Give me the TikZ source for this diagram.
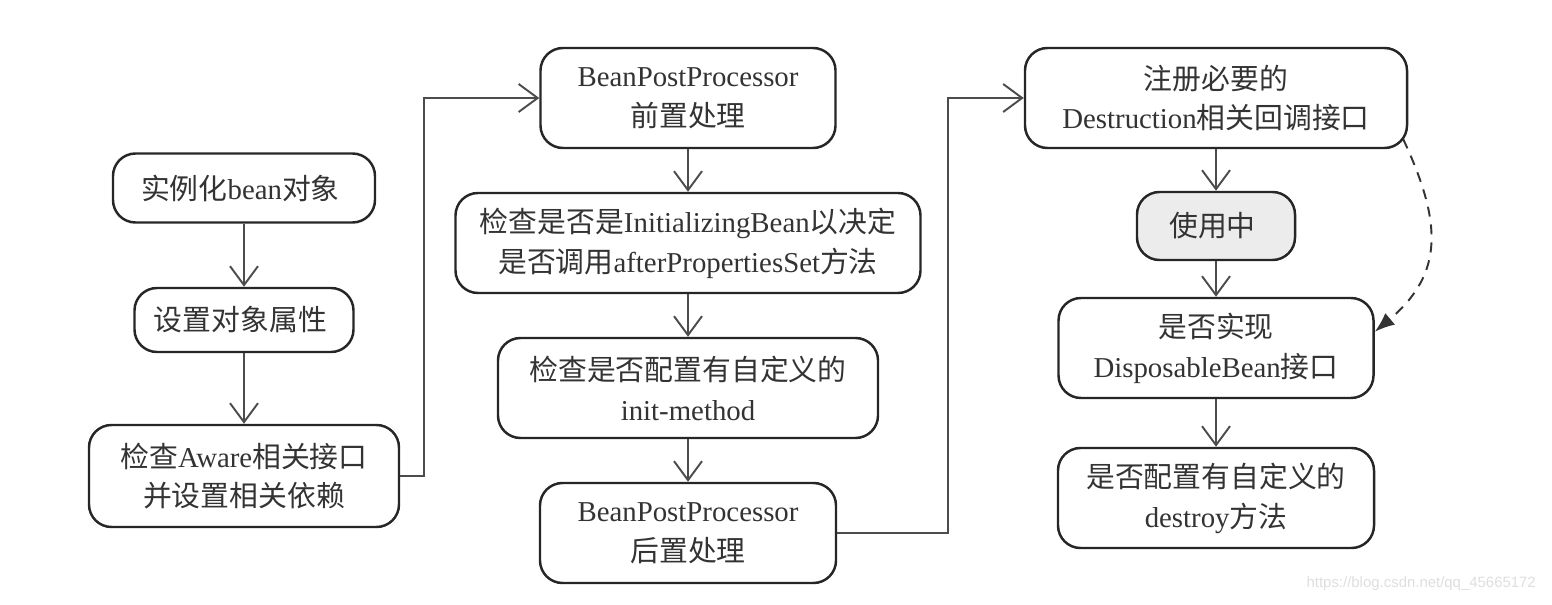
\documentclass[tikz,border=0pt]{standalone}
\usepackage{fontspec}
\setmainfont{Liberation Serif}
\newfontfamily\cjkfont{Noto Sans CJK SC}
\newfontfamily\urlfont{Liberation Sans}
\newcommand{\zh}[1]{{\cjkfont #1}}
\usetikzlibrary{arrows.meta}

\begin{document}
\begin{tikzpicture}[
            >={Straight Barb[length=3.8mm,width=5.6mm]},
                base/.style = {rectangle, rounded corners=4.5mm, draw=black!85,
                            line width=1.4pt, minimum height=2cm, text
                            centered, text=black!80, inner sep=2pt,
                            font=\fontsize{16.4}{22.7}\selectfont, align=center},
                process/.style = {base, fill=white},
                busy/.style = {base, fill=gray!15},
                flow/.style = {->, draw=black!70, line width=1.1pt},
                callback/.style = {-{Latex[length=4mm,width=3mm]}, draw=black!80,
                            line width=1.1pt, dash pattern=on 2mm off 1.6mm},
            node distance=2.9cm]
            \useasboundingbox (0,0) rectangle (31.04,-12.1);
            % creation
            \node (Instantiate) [process, minimum width=5.24cm, minimum height=1.38cm] at (4.88,-3.76) {
                \zh{实例化}bean\zh{对象}
            };
            \node (SetProperties) [process, below of=Instantiate, yshift=0.26cm,
                minimum width=4.38cm, minimum height=1.28cm] {
                \zh{设置对象属性}
            };
            \node (AwareCheck) [process, below of=SetProperties, yshift=-0.22cm,
                minimum width=6.2cm, minimum height=2.04cm] {
                \zh{检查}Aware\zh{相关接口}\\\zh{并设置相关依赖}
            };
            % initialisation
            \node (PreProcess) [process, minimum width=5.9cm] at (13.76,-1.96) {
                BeanPostProcessor\\\zh{前置处理}
            };
            \node (InitializingCheck) [process, below of=PreProcess, minimum width=9.3cm] {
                \zh{检查是否是}InitializingBean\zh{以决定}\\\zh{是否调用}afterPropertiesSet\zh{方法}
            };
            \node (InitMethod) [process, below of=InitializingCheck, minimum width=7.6cm] {
                \zh{检查是否配置有自定义的}\\init-method
            };
            \node (PostProcess) [process, below of=InitMethod, minimum width=5.92cm] {
                BeanPostProcessor\\\zh{后置处理}
            };
            % destruction
            \node (RegisterDestruction) [process, minimum width=7.64cm] at (24.32,-1.96) {
                \zh{注册必要的}\\Destruction\zh{相关回调接口}
            };
            \node (InUse) [busy, below of=RegisterDestruction, yshift=0.34cm,
                minimum width=3.16cm, minimum height=1.36cm] {
                \zh{使用中}
            };
            \node (DisposableCheck) [process, below of=InUse, yshift=0.46cm, minimum width=6.3cm] {
                \zh{是否实现}\\DisposableBean\zh{接口}
            };
            \node (DestroyMethod) [process, below of=DisposableCheck, yshift=-0.1cm, minimum width=6.32cm] {
                \zh{是否配置有自定义的}\\destroy\zh{方法}
            };
            \node (Watermark) [anchor=east, text=black!13, font=\urlfont\fontsize{8.5}{10}\selectfont]
                at (30.84,-11.68) {https://blog.csdn.net/qq\_45665172};
            \draw[flow] (Instantiate) -- (SetProperties);
            \draw[flow] (SetProperties) -- (AwareCheck);
            \draw[flow] (AwareCheck.east) -- ++(0.48,0) |- (PreProcess.west);
            \draw[flow] (PreProcess) -- (InitializingCheck);
            \draw[flow] (InitializingCheck) -- (InitMethod);
            \draw[flow] (InitMethod) -- (PostProcess);
            \draw[flow] (PostProcess.east) -- ++(2.22,0) |- (RegisterDestruction.west);
            \draw[flow] (RegisterDestruction) -- (InUse);
            \draw[flow] (InUse) -- (DisposableCheck);
            \draw[flow] (DisposableCheck) -- (DestroyMethod);
            \draw[callback] ([xshift=-1mm,yshift=2mm]RegisterDestruction.south east)
                to[out=-65, in=40, looseness=1.2] ([yshift=-7mm]DisposableCheck.north east);
        \end{tikzpicture}
\end{document}
